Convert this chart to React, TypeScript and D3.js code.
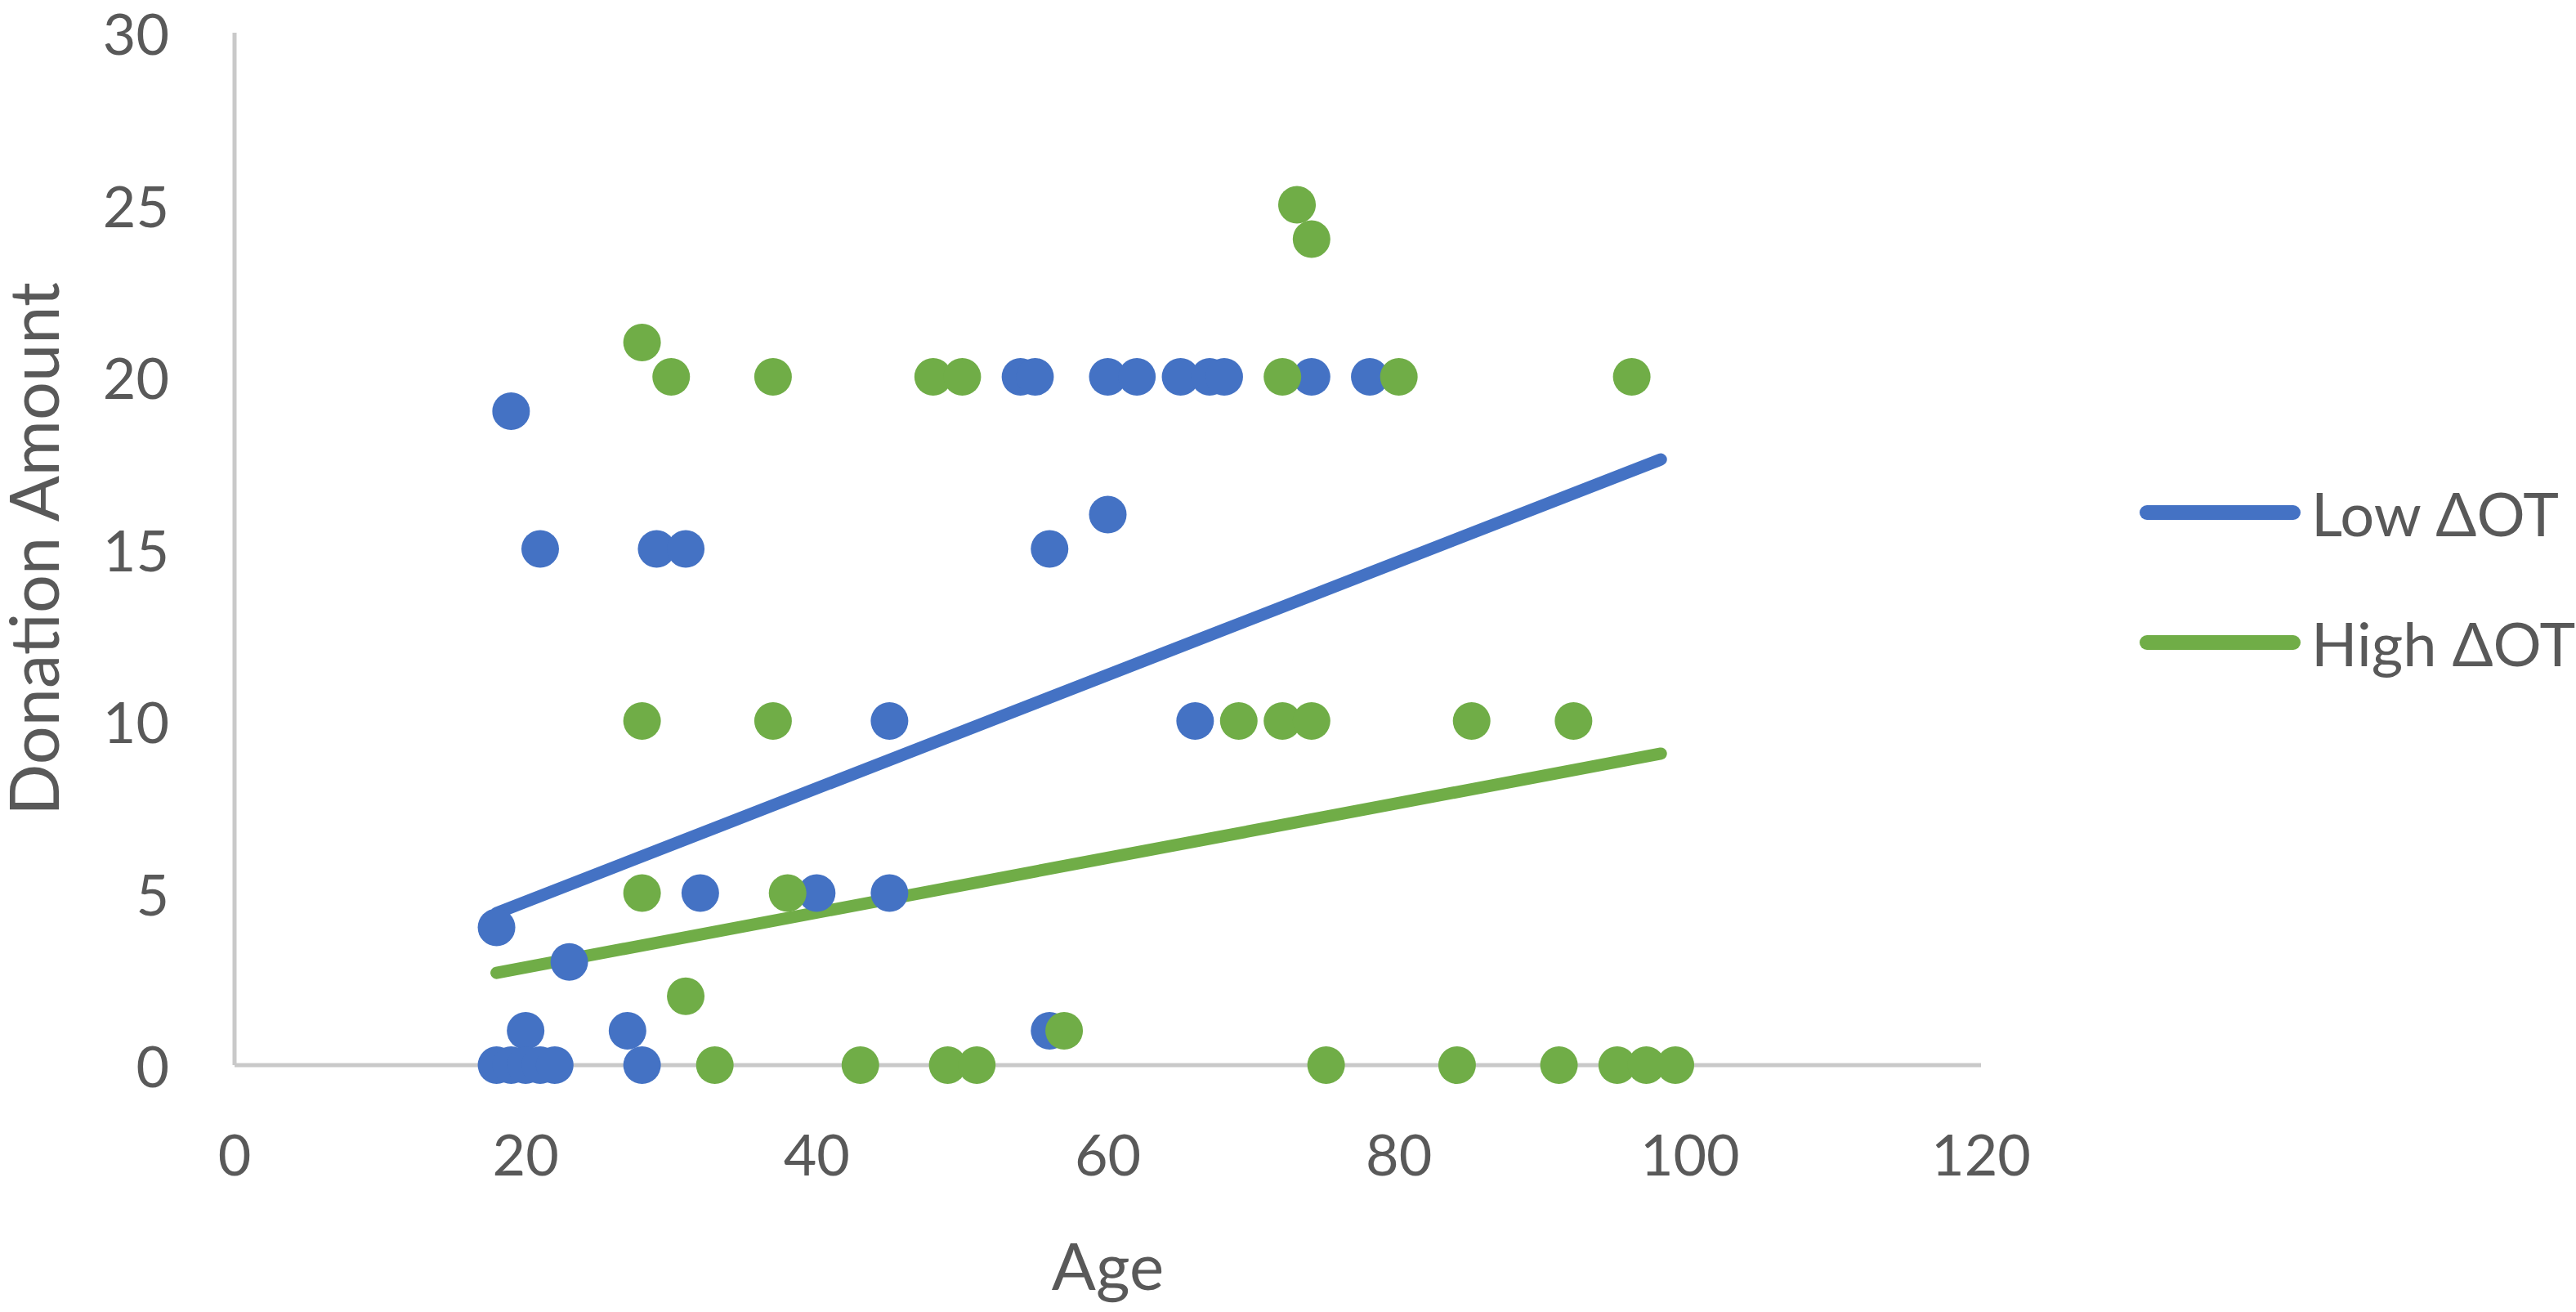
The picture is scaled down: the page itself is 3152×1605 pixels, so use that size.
import { useEffect } from "react"
import * as d3 from "d3"

// Low ΔOT (blue) observations
const lowAges = [18, 19, 21, 29, 31, 23, 20, 27, 18, 19, 20, 21, 22, 28, 32, 40, 45, 45, 56, 60, 56, 66, 54, 55, 60, 62, 65, 67, 68, 74, 78]
const lowAmounts = [4, 19, 15, 15, 15, 3, 1, 1, 0, 0, 0, 0, 0, 0, 5, 5, 5, 10, 15, 16, 1, 10, 20, 20, 20, 20, 20, 20, 20, 20, 20]

// High ΔOT (green) observations
const highAges = [28, 30, 37, 48, 50, 72, 80, 96, 73, 74, 28, 37, 69, 72, 74, 85, 92, 28, 38, 31, 57, 33, 43, 49, 51, 75, 84, 91, 95, 97, 99]
const highAmounts = [21, 20, 20, 20, 20, 20, 20, 20, 25, 24, 10, 10, 10, 10, 10, 10, 10, 5, 5, 2, 1, 0, 0, 0, 0, 0, 0, 0, 0, 0, 0]

// linear trendline endpoints (age, amount)
const lowTrend: [number, number][] = [[18, 4.42], [98, 17.6]]
const highTrend: [number, number][] = [[18, 2.68], [98, 9.05]]

const xTicks = [0, 20, 40, 60, 80, 100, 120]
const yTicks = [0, 5, 10, 15, 20, 25, 30]

const seriesNames = ["Low ΔOT", "High ΔOT"]

const BLUE = "#4472C4"
const GREEN = "#70AD47"
const TEXT = "#595959"
const AXIS = "#C9C9C9"
const FONT = "Lato, 'Open Sans', sans-serif"

const W = 3152
const H = 1605

export default function App() {
  useEffect(() => {
    document.body.style.margin = "0"
  }, [])

  const x = d3.scaleLinear().domain([0, 120]).range([287, 2424])
  const y = d3.scaleLinear().domain([0, 30]).range([1303, 40])

  const line = d3
    .line<[number, number]>()
    .x((d) => x(d[0]))
    .y((d) => y(d[1]))

  const low = lowAges.map((a, i) => ({ age: a, amount: lowAmounts[i] }))
  const high = highAges.map((a, i) => ({ age: a, amount: highAmounts[i] }))

  const legendColors = [BLUE, GREEN]

  return (
    <svg width={W} height={H} style={{ display: "block", background: "#fff" }} fontFamily={FONT}>
      {/* axes */}
      <line x1={x(0)} x2={x(0)} y1={y(30)} y2={y(0)} stroke={AXIS} strokeWidth={5} />
      <line x1={x(0)} x2={x(120)} y1={y(0)} y2={y(0)} stroke={AXIS} strokeWidth={5} />

      {xTicks.map((t) => (
        <text key={"x" + t} x={x(t)} y={1411} textAnchor="middle" dominantBaseline="central" fontSize={70} fill={TEXT}>
          {t}
        </text>
      ))}
      {yTicks.map((t) => (
        <text key={"y" + t} x={207} y={y(t)} textAnchor="end" dominantBaseline="central" fontSize={70} fill={TEXT}>
          {t}
        </text>
      ))}

      <text x={(x(0) + x(120)) / 2} y={1578} textAnchor="middle" fontSize={80} fill={TEXT}>
        Age
      </text>
      <text
        transform={`translate(72,${(y(0) + y(30)) / 2}) rotate(-90)`}
        textAnchor="middle"
        fontSize={83}
        fill={TEXT}
      >
        Donation Amount
      </text>

      {/* trendlines */}
      <path d={line(lowTrend) || ""} stroke={BLUE} strokeWidth={15} strokeLinecap="round" fill="none" />
      <path d={line(highTrend) || ""} stroke={GREEN} strokeWidth={15} strokeLinecap="round" fill="none" />

      {/* points */}
      {low.map((d, i) => (
        <circle key={"l" + i} cx={x(d.age)} cy={y(d.amount)} r={23} fill={BLUE} />
      ))}
      {high.map((d, i) => (
        <circle key={"h" + i} cx={x(d.age)} cy={y(d.amount)} r={23} fill={GREEN} />
      ))}

      {/* legend */}
      {seriesNames.map((name, i) => {
        const ly = 627 + i * 159
        return (
          <g key={name}>
            <line x1={2627} x2={2806} y1={ly} y2={ly} stroke={legendColors[i]} strokeWidth={18} strokeLinecap="round" />
            <text x={2828} y={ly} dominantBaseline="central" fontSize={74} fill={TEXT}>
              {name}
            </text>
          </g>
        )
      })}
    </svg>
  )
}
